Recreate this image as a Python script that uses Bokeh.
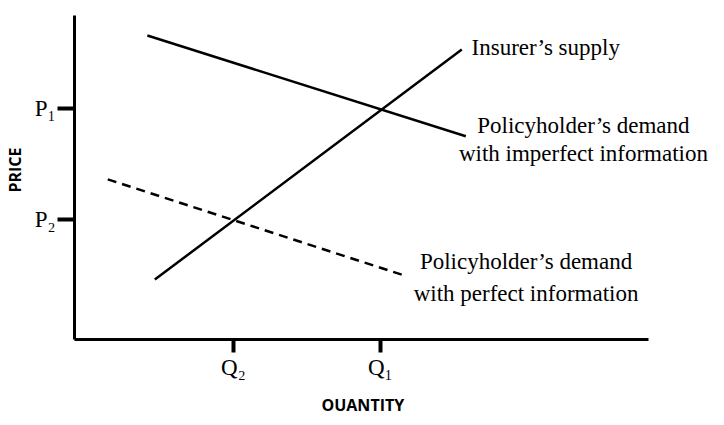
from bokeh.plotting import figure
from bokeh.models import Label, FixedTicker, Range1d, Title
from bokeh.embed import file_html
from bokeh.resources import INLINE

# ---- data (in abstract price/quantity units) ----
quantity_ticks = [2.77, 5.33]
quantity_labels = ["Q\u2082", "Q\u2081"]
price_ticks = [3.70, 7.13]
price_labels = ["P\u2082", "P\u2081"]

supply_x = [1.40, 6.75]
supply_y = [1.85, 8.95]
imperfect_x = [1.27, 6.82]
imperfect_y = [9.38, 6.27]
perfect_x = [0.58, 5.74]
perfect_y = [4.94, 1.98]

SERIF = "Liberation Serif"
SANS = "Open Sans"

p = figure(width=708, height=425, x_range=Range1d(0, 11.05), y_range=Range1d(0, 10.46),
           output_backend="svg", toolbar_location=None,
           min_border_left=65, min_border_right=0, min_border_top=0, min_border_bottom=86)
p.outline_line_color = None
p.xgrid.visible = False
p.ygrid.visible = False
p.background_fill_color = "white"
p.border_fill_color = "white"

for ax, ticks, labels, tout in ((p.xaxis[0], quantity_ticks, quantity_labels, 13),
                                (p.yaxis[0], price_ticks, price_labels, 17)):
    ax.ticker = FixedTicker(ticks=ticks)
    ax.bounds = (0, 10)
    ax.major_label_overrides = {t: l for t, l in zip(ticks, labels)}
    ax.minor_tick_line_color = None
    ax.major_tick_in = 0
    ax.major_tick_out = tout
    ax.major_tick_line_width = 4
    ax.major_tick_line_color = "black"
    ax.axis_line_width = 3
    ax.axis_line_color = "black"
    ax.major_label_text_font = SERIF
    ax.major_label_text_font_size = "23px"
    ax.major_label_text_color = "black"
    ax.axis_label_text_font = SANS
    ax.axis_label_text_font_style = "bold"
    ax.axis_label_text_font_size = "16px"
    ax.axis_label_text_color = "black"

p.yaxis.axis_label = "PRICE"
p.xaxis.major_label_standoff = 2
p.yaxis.major_label_standoff = 2
p.yaxis.axis_label_standoff = 6
p.yaxis.major_label_orientation = "horizontal"

# quantity axis title, positioned under the Q ticks
p.add_layout(Title(text="OUANTITY", align="left", offset=247, standoff=19,
                   text_font=SANS, text_font_size="16px", text_font_style="bold",
                   text_color="black"), "below")

p.line(supply_x, supply_y, line_color="black", line_width=2.5)
p.line(imperfect_x, imperfect_y, line_color="black", line_width=2.5)
p.line(perfect_x, perfect_y, line_color="black", line_width=2.5, line_dash="9 6")

def lab(x, y, text, align):
    p.add_layout(Label(x=x, y=y, text=text, text_font=SERIF, text_font_size="23px",
                       text_align=align, text_baseline="middle", text_color="black"))

lab(6.92, 9.01, "Insurer\u2019s supply", "left")
lab(8.87, 6.60, "Policyholder\u2019s demand", "center")
lab(8.87, 5.74, "with imperfect information", "center")
lab(7.87, 2.41, "Policyholder\u2019s demand", "center")
lab(7.87, 1.42, "with perfect information", "center")

open("out.html", "w").write(file_html(p, INLINE))
